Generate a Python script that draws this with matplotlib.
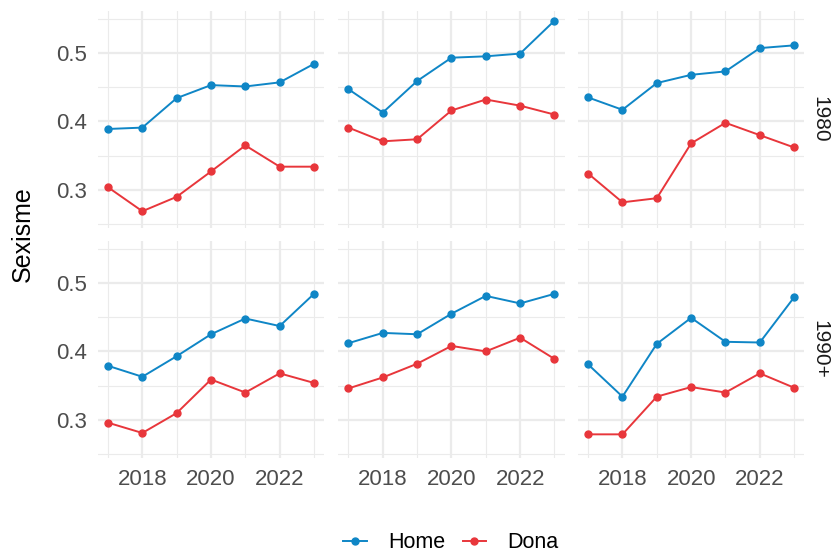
import matplotlib.pyplot as plt
from matplotlib.lines import Line2D

plt.rcParams['font.family'] = ['Liberation Sans', 'DejaVu Sans']

years = [2017, 2018, 2019, 2020, 2021, 2022, 2023]
rows = ["1980", "1990+"]

# home (blue) and dona (red), one list per panel, row by row
home = [
    [0.389, 0.391, 0.434, 0.453, 0.451, 0.457, 0.484],
    [0.447, 0.413, 0.459, 0.493, 0.495, 0.499, 0.547],
    [0.435, 0.417, 0.456, 0.468, 0.473, 0.507, 0.511],
    [0.379, 0.363, 0.393, 0.425, 0.448, 0.437, 0.484],
    [0.412, 0.427, 0.425, 0.455, 0.481, 0.470, 0.484],
    [0.381, 0.334, 0.411, 0.449, 0.414, 0.413, 0.479],
]
dona = [
    [0.304, 0.269, 0.290, 0.327, 0.365, 0.334, 0.334],
    [0.391, 0.371, 0.374, 0.416, 0.432, 0.423, 0.410],
    [0.324, 0.282, 0.288, 0.368, 0.398, 0.380, 0.362],
    [0.296, 0.281, 0.310, 0.359, 0.340, 0.368, 0.354],
    [0.346, 0.362, 0.382, 0.408, 0.400, 0.420, 0.389],
    [0.279, 0.279, 0.334, 0.348, 0.340, 0.368, 0.347],
]

blue = '#0f86c6'
red = '#e8363b'
grid = '#ebebeb'

fig = plt.figure(figsize=(8.35, 5.54), dpi=100)

lefts = [0.117, 0.405, 0.692]
bottoms = [0.5884, 0.1733]
w = 0.2714
h = 0.3916

for r in range(2):
    for c in range(3):
        k = r * 3 + c
        ax = fig.add_axes([lefts[c], bottoms[r], w, h])
        ax.plot(years, home[k], color=blue, lw=1.4, marker='o', ms=5, zorder=3)
        ax.plot(years, dona[k], color=red, lw=1.4, marker='o', ms=5, zorder=3)
        ax.set_xlim(2016.7, 2023.3)
        ax.set_ylim(0.2445, 0.561)
        ax.set_xticks([2018, 2020, 2022])
        ax.set_xticks([2017, 2019, 2021, 2023], minor=True)
        ax.set_yticks([0.3, 0.4, 0.5])
        ax.set_yticks([0.25, 0.35, 0.45, 0.55], minor=True)
        ax.grid(which='major', color=grid, lw=1.6)
        ax.grid(which='minor', color=grid, lw=0.8)
        ax.set_axisbelow(True)
        for s in ax.spines.values():
            s.set_visible(False)
        ax.tick_params(which='both', length=0, labelsize=16, labelcolor='#4d4d4d', pad=8)
        if r == 0:
            ax.set_xticklabels([])
        if c > 0:
            ax.set_yticklabels([])
        if c == 2:
            ax.text(1.07, 0.5, rows[r], transform=ax.transAxes, rotation=-90,
                    ha='center', va='center', fontsize=15, color='#1a1a1a')

fig.text(0.027, 0.577, 'Sexisme', rotation=90, ha='center', va='center', fontsize=18)

handles = [Line2D([], [], color=blue, lw=1.4, marker='o', ms=5),
           Line2D([], [], color=red, lw=1.4, marker='o', ms=5)]
fig.legend(handles, ['Home', 'Dona'], loc='center', bbox_to_anchor=(0.54, 0.02),
           ncol=2, frameon=False, fontsize=15.5, handlelength=1.1,
           columnspacing=0.8, handletextpad=1.0)

fig.savefig('out.png', dpi=100)
